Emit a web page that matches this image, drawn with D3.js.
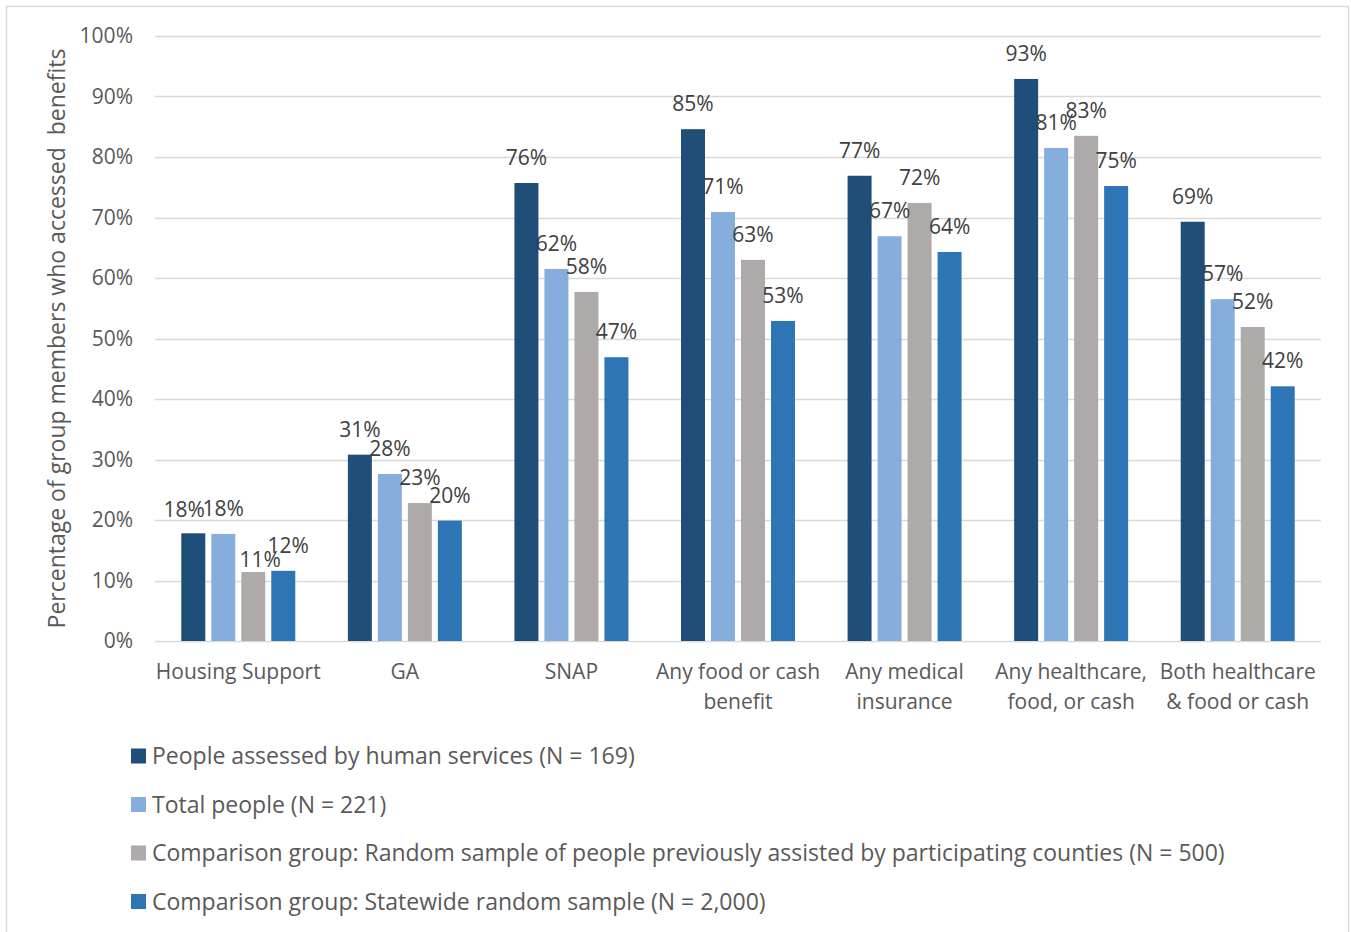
<!DOCTYPE html>
<html>
<head>
<meta charset="utf-8">
<script src="https://cdn.jsdelivr.net/npm/d3@7"></script>
<style>
  html, body { margin: 0; padding: 0; background: #fff; }
  svg { display: block; }
  text { font-family: "Open Sans", "Noto Sans", sans-serif; }
</style>
</head>
<body>
<svg id="chart" width="1351" height="932"></svg>
<script>
// ---- Data ----
const categories = [
  ["Housing Support"],
  ["GA"],
  ["SNAP"],
  ["Any food or cash", "benefit"],
  ["Any medical", "insurance"],
  ["Any healthcare,", "food, or cash"],
  ["Both healthcare", "& food or cash"]
];
const seriesNames = [
  "People assessed by human services (N = 169)",
  "Total people (N = 221)",
  "Comparison group: Random sample of people previously assisted by participating counties (N = 500)",
  "Comparison group: Statewide random sample (N = 2,000)"
];
const assessedValues   = [17.8, 30.8, 75.7, 84.6, 76.9, 92.9, 69.3];
const totalValues      = [17.7, 27.6, 61.5, 70.9, 66.9, 81.5, 56.5];
const countyValues     = [11.4, 22.8, 57.7, 63.0, 72.4, 83.5, 51.9];
const statewideValues  = [11.6, 19.9, 46.9, 52.9, 64.3, 75.2, 42.1];
const valueLabels = [
  ["18%", "31%", "76%", "85%", "77%", "93%", "69%"],
  ["18%", "28%", "62%", "71%", "67%", "81%", "57%"],
  ["11%", "23%", "58%", "63%", "72%", "83%", "52%"],
  ["12%", "20%", "47%", "53%", "64%", "75%", "42%"]
];
const yTicks = [0, 10, 20, 30, 40, 50, 60, 70, 80, 90, 100];
const yTitle = "Percentage of group members who accessed  benefits";

// ---- Style / layout ----
const colors = ["#1f4e79", "#85aedc", "#aeaaaa", "#2e75b6"];
const textColor = "#595959";
const labelColor = "#404040";
const gridColor = "#d9d9d9";
const fontSize = 21;
const bigFont = 23;
// small manual nudges of overlapping labels (series index, category index): [dx, dy]
const labelNudges = { "0-0": [-9, 2], "2-0": [7, 13], "3-0": [5, 0] };

const seriesValues = [assessedValues, totalValues, countyValues, statewideValues];
const svg = d3.select("#chart");
const W = 1351, H = 932;

// outer border
svg.append("rect").attr("x", 6.5).attr("y", 6.5).attr("width", 1342).attr("height", H + 10)
  .attr("fill", "#fff").attr("stroke", "#d9d9d9").attr("stroke-width", 1.5);

const plot = { left: 155, right: 1321, top: 36, bottom: 641 };

const y = d3.scaleLinear().domain([0, 100]).range([plot.bottom, plot.top]);
const x0 = d3.scaleBand().domain(d3.range(categories.length)).range([plot.left, plot.right]).padding(0);
const groupW = 114;
const x1 = d3.scaleBand().domain(d3.range(seriesNames.length)).range([0, groupW]).paddingInner(0.2).paddingOuter(0);
const groupOffset = (x0.bandwidth() - groupW) / 2;

// gridlines
const g = svg.append("g");
g.selectAll("line.grid").data(yTicks).join("line")
  .attr("class", "grid")
  .attr("x1", plot.left).attr("x2", plot.right)
  .attr("y1", d => Math.round(y(d)) + 0.5).attr("y2", d => Math.round(y(d)) + 0.5)
  .attr("stroke", gridColor).attr("stroke-width", 1.5);

// y tick labels
g.selectAll("text.ytick").data(yTicks).join("text")
  .attr("class", "ytick")
  .attr("x", 133).attr("y", d => y(d))
  .attr("dy", "0.35em")
  .attr("text-anchor", "end")
  .attr("font-size", fontSize).attr("fill", textColor)
  .text(d => d + "%");

// y axis title
svg.append("text")
  .attr("transform", `translate(65, ${(plot.top + plot.bottom) / 2}) rotate(-90)`)
  .attr("text-anchor", "middle")
  .attr("font-size", bigFont).attr("fill", textColor)
  .style("white-space", "pre")
  .attr("xml:space", "preserve")
  .text(yTitle);

// bars
const groups = svg.append("g").selectAll("g.cat").data(categories).join("g")
  .attr("class", "cat")
  .attr("transform", (d, i) => `translate(${x0(i) + groupOffset},0)`);

groups.each(function(cat, ci) {
  const gg = d3.select(this);
  seriesValues.forEach((vals, si) => {
    gg.append("rect")
      .attr("x", x1(si)).attr("width", x1.bandwidth())
      .attr("y", y(vals[ci])).attr("height", y(0) - y(vals[ci]))
      .attr("fill", colors[si]);
  });
  seriesValues.forEach((vals, si) => {
    const n = labelNudges[si + "-" + ci] || [0, 0];
    gg.append("text")
      .attr("x", x1(si) + x1.bandwidth() / 2 + n[0])
      .attr("y", y(vals[ci]) - 18 + n[1])
      .attr("text-anchor", "middle")
      .attr("font-size", fontSize).attr("fill", labelColor)
      .text(valueLabels[si][ci]);
  });
});

// category labels
svg.append("g").selectAll("text.cat").data(categories).join("text")
  .attr("class", "cat")
  .attr("x", (d, i) => x0(i) + x0.bandwidth() / 2)
  .attr("y", 679)
  .attr("text-anchor", "middle")
  .attr("font-size", fontSize).attr("fill", textColor)
  .each(function(lines) {
    const t = d3.select(this);
    lines.forEach((ln, li) => {
      t.append("tspan").attr("x", t.attr("x")).attr("dy", li === 0 ? 0 : 30).text(ln);
    });
  });

// legend
const legend = svg.append("g").selectAll("g.leg").data(seriesNames).join("g")
  .attr("class", "leg")
  .attr("transform", (d, i) => `translate(131, ${756 + i * 48.5})`);
legend.append("rect").attr("x", 0).attr("y", -7.5).attr("width", 15).attr("height", 15)
  .attr("fill", (d, i) => colors[i]);
legend.append("text").attr("x", 21).attr("y", 0).attr("dy", "0.35em")
  .attr("font-size", bigFont).attr("fill", textColor)
  .text(d => d);
</script>
</body>
</html>
